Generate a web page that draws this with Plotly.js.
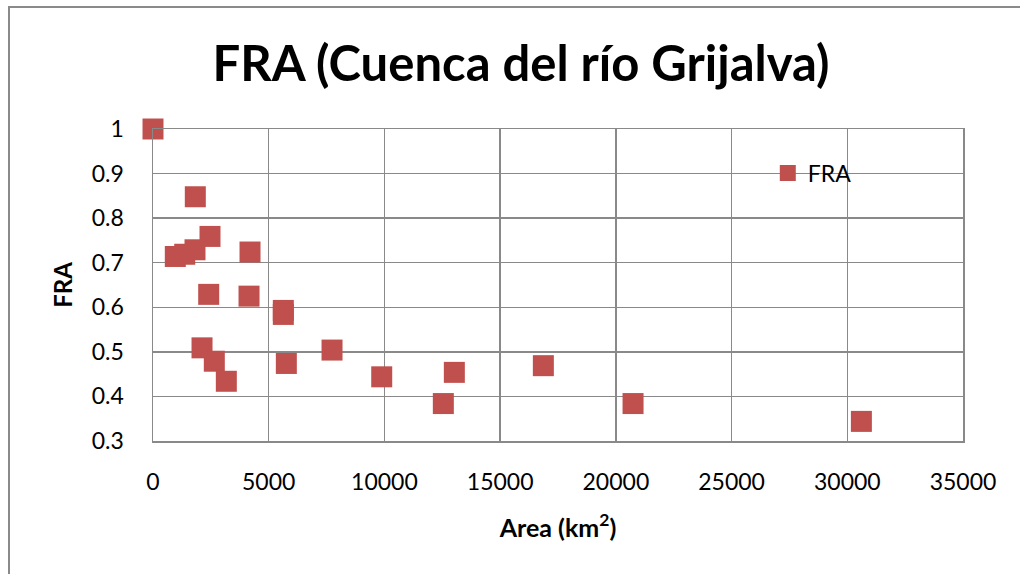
<!DOCTYPE html>
<html>
<head>
<meta charset="utf-8">
<script src="https://cdn.plot.ly/plotly-3.0.1.min.js"></script>
<style>
  html, body { margin: 0; padding: 0; background: #fff; }
  #chart { width: 1020px; height: 574px; }
</style>
</head>
<body>
<div id="chart"></div>
<script>
const seriesName = "FRA";
const areaKm2 = [0, 1828, 2463, 1815, 1370, 964, 4192, 2407, 4149, 5631, 5631, 2118, 2649, 3168, 5761, 7736, 9883, 13021, 12545, 16867, 20743, 30609];
const fraValues = [1.0, 0.848, 0.759, 0.729, 0.719, 0.714, 0.724, 0.629, 0.625, 0.593, 0.584, 0.509, 0.479, 0.434, 0.474, 0.504, 0.444, 0.454, 0.384, 0.469, 0.384, 0.344];
const chartTitle = "FRA (Cuenca del río Grijalva)";
const xTitle = "Area (km<sup>2</sup>)";
const yTitle = "FRA";

const fontFam = "Lato, 'Open Sans', sans-serif";
const gridCol = "#898989";

const trace = {
  x: areaKm2,
  y: fraValues,
  name: seriesName,
  type: "scatter",
  mode: "markers",
  cliponaxis: false,
  marker: { symbol: "square", size: 21, color: "#C0504D", line: { width: 0 } }
};

const layout = {
  width: 1020,
  height: 574,
  margin: { l: 153, r: 57, t: 129, b: 133 },
  paper_bgcolor: "#ffffff",
  plot_bgcolor: "#ffffff",
  font: { family: fontFam, size: 23, color: "#000" },
  title: {
    text: "<b>" + chartTitle + "</b>",
    font: { family: fontFam, size: 49, color: "#000" },
    x: 521 / 1020, xanchor: "center", xref: "container",
    y: 1 - 64 / 574, yanchor: "middle", yref: "container"
  },
  xaxis: {
    range: [0, 35000],
    dtick: 5000,
    tick0: 0,
    tickformat: "d",
    showgrid: true,
    gridcolor: gridCol,
    gridwidth: 1.5,
    zeroline: false,
    showline: true,
    linecolor: gridCol,
    linewidth: 1.5,
    mirror: true,
    ticks: "",
    ticklabelstandoff: 20,
    tickfont: { family: fontFam, size: 23, color: "#000" },
    title: { text: "<b>" + xTitle + "</b>", font: { family: fontFam, size: 25, color: "#000" }, standoff: 25 }
  },
  yaxis: {
    range: [0.3, 1],
    dtick: 0.1,
    tick0: 0.3,
    showgrid: true,
    gridcolor: gridCol,
    gridwidth: 1.5,
    zeroline: false,
    showline: true,
    linecolor: gridCol,
    linewidth: 1.5,
    mirror: true,
    ticks: "",
    ticklabelstandoff: 23,
    tickfont: { family: fontFam, size: 23, color: "#000" },
    title: { text: "<b>" + yTitle + "</b>", font: { family: fontFam, size: 24, color: "#000" }, standoff: 12 }
  },
  showlegend: true,
  legend: {
    x: 0.759, xanchor: "left",
    y: 0.859, yanchor: "middle",
    bgcolor: "rgba(0,0,0,0)",
    font: { family: fontFam, size: 23, color: "#000" }
  },
  shapes: [{
    type: "rect", xref: "paper", yref: "paper",
    x0: (9 - 153) / 810, x1: 1.2,
    y0: -0.6, y1: 1 + (129 - 7) / 312,
    line: { color: "#8a8a8a", width: 2 },
    fillcolor: "rgba(0,0,0,0)",
    layer: "below"
  }]
};

Plotly.newPlot("chart", [trace], layout, { displayModeBar: false, staticPlot: true });
</script>
</body>
</html>
